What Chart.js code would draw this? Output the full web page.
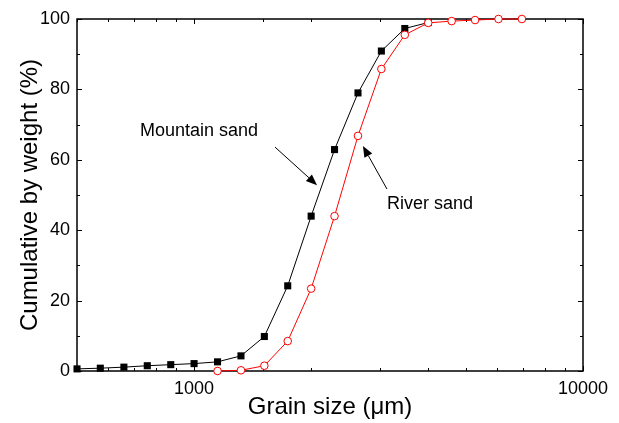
<!DOCTYPE html>
<html>
<head>
<meta charset="utf-8">
<script src="https://cdn.jsdelivr.net/npm/chart.js@4.4.0/dist/chart.umd.min.js"></script>
<style>
  html, body { margin: 0; padding: 0; background: #fff; }
  #wrap { width: 619px; height: 423px; }
</style>
</head>
<body>
<div id="wrap"><canvas id="chart"></canvas></div>
<script>
// sieve sizes (um), step 2^(1/5)
const grainSizes = [500, 574, 660, 758, 871, 1000, 1149, 1320, 1516, 1741, 2000, 2297, 2639, 3031, 3482, 4000, 4595, 5278, 6063, 6964];
const mountainSand = [0.6, 0.8, 1.1, 1.5, 1.8, 2.1, 2.6, 4.3, 9.8, 24.2, 44.0, 62.9, 79.0, 90.9, 97.3, 99.0, null, null, null, null];
const riverSand = [null, null, null, null, null, null, 0, 0.2, 1.5, 8.5, 23.4, 44.0, 66.8, 85.8, 95.5, 98.9, 99.4, 99.7, 100, 100];

const xLabels = [1000, 10000];
const yLabels = [0, 20, 40, 60, 80, 100];

// annotation text + arrows, in data units
const noteTexts = ["Mountain sand", "River sand"];
const noteAt = [[726, 68.2], [3133, 47.4]];
const arrowFrom = [[1615, 63.6], [3133, 51.7]];
const arrowTo = [[2071, 52.8], [2718, 63.9]];

const FONT = "Arial, 'Liberation Sans', sans-serif";

function toPoints(values) {
    return grainSizes.map((g, i) => ({ x: g, y: values[i] })).filter(p => p.y !== null);
}

const frameAndTicks = {
    id: "frameAndTicks",
    beforeDatasetsDraw(chart) {
        const { ctx, chartArea: a, scales: { x, y } } = chart;
        ctx.save();
        ctx.strokeStyle = "#000";
        ctx.lineWidth = 1;
        ctx.beginPath();
        x.ticks.forEach(t => {
            const px = Math.round(x.getPixelForValue(t.value)) + 0.5;
            const len = xLabels.includes(t.value) ? 5 : 3;
            ctx.moveTo(px, a.bottom); ctx.lineTo(px, a.bottom - len);
            ctx.moveTo(px, a.top); ctx.lineTo(px, a.top + len);
        });
        y.ticks.forEach(t => {
            const py = Math.round(y.getPixelForValue(t.value)) + 0.5;
            const len = yLabels.includes(t.value) ? 5 : 3;
            ctx.moveTo(a.left, py); ctx.lineTo(a.left + len, py);
            ctx.moveTo(a.right, py); ctx.lineTo(a.right - len, py);
        });
        ctx.stroke();
        ctx.lineWidth = 1.5;
        ctx.strokeRect(a.left, a.top, a.right - a.left, a.bottom - a.top);
        ctx.restore();
    },
    afterDraw(chart) {
        const { ctx, scales: { x, y } } = chart;
        ctx.save();
        ctx.fillStyle = "#000";
        ctx.strokeStyle = "#000";
        ctx.font = "18px " + FONT;
        ctx.textBaseline = "middle";
        noteTexts.forEach((txt, i) => {
            ctx.fillText(txt, x.getPixelForValue(noteAt[i][0]), y.getPixelForValue(noteAt[i][1]));

            const x0 = x.getPixelForValue(arrowFrom[i][0]), y0 = y.getPixelForValue(arrowFrom[i][1]);
            const x1 = x.getPixelForValue(arrowTo[i][0]), y1 = y.getPixelForValue(arrowTo[i][1]);
            const ang = Math.atan2(y1 - y0, x1 - x0);
            const headLen = 11, headW = 4.5;
            const bx = x1 - headLen * Math.cos(ang), by = y1 - headLen * Math.sin(ang);
            ctx.lineWidth = 1;
            ctx.beginPath();
            ctx.moveTo(x0, y0);
            ctx.lineTo(bx, by);
            ctx.stroke();
            ctx.beginPath();
            ctx.moveTo(x1, y1);
            ctx.lineTo(bx + headW * Math.sin(ang), by - headW * Math.cos(ang));
            ctx.lineTo(bx - headW * Math.sin(ang), by + headW * Math.cos(ang));
            ctx.closePath();
            ctx.fill();
        });
        ctx.restore();
    }
};

new Chart(document.getElementById("chart"), {
    type: "scatter",
    data: {
        datasets: [
            {
                label: "River sand",
                data: toPoints(riverSand),
                showLine: true,
                borderColor: "#ff0000",
                borderWidth: 1,
                pointStyle: "circle",
                pointRadius: 3.8,
                pointBorderWidth: 1,
                pointBackgroundColor: "#ffffff",
                pointBorderColor: "#ff0000",
                clip: false
            },
            {
                label: "Mountain sand",
                data: toPoints(mountainSand),
                showLine: true,
                borderColor: "#000000",
                borderWidth: 1,
                pointStyle: "rect",
                pointRadius: 5,
                pointBorderWidth: 0,
                pointBackgroundColor: "#000000",
                pointBorderColor: "#000000",
                clip: false
            }
        ]
    },
    options: {
        responsive: true,
        maintainAspectRatio: false,
        animation: false,
        layout: { padding: { top: 19, right: 36, left: 0, bottom: 0 } },
        plugins: { legend: { display: false }, tooltip: { enabled: false } },
        scales: {
            x: {
                type: "logarithmic",
                min: 500,
                max: 10000,
                grid: { display: false, drawTicks: false },
                border: { display: false },
                afterFit: s => { s.height = 52; },
                ticks: {
                    padding: 7,
                    color: "#000",
                    font: { family: FONT, size: 18 },
                    autoSkip: false,
                    maxRotation: 0,
                    callback: v => xLabels.includes(v) ? String(v) : ""
                },
                title: {
                    display: true,
                    text: "Grain size (\u03bcm)",
                    color: "#000",
                    font: { family: FONT, size: 24 },
                    padding: { top: 0, bottom: 1 }
                }
            },
            y: {
                min: 0,
                max: 100,
                grid: { display: false, drawTicks: false },
                border: { display: false },
                afterFit: s => { s.width = 77; },
                ticks: {
                    stepSize: 10,
                    padding: 7,
                    color: "#000",
                    font: { family: FONT, size: 18 },
                    callback: v => yLabels.includes(v) ? String(v) : ""
                },
                title: {
                    display: true,
                    text: "Cumulative by weight (%)",
                    color: "#000",
                    font: { family: FONT, size: 24 },
                    padding: { top: 16, bottom: 0 }
                }
            }
        }
    },
    plugins: [frameAndTicks]
});
</script>
</body>
</html>
